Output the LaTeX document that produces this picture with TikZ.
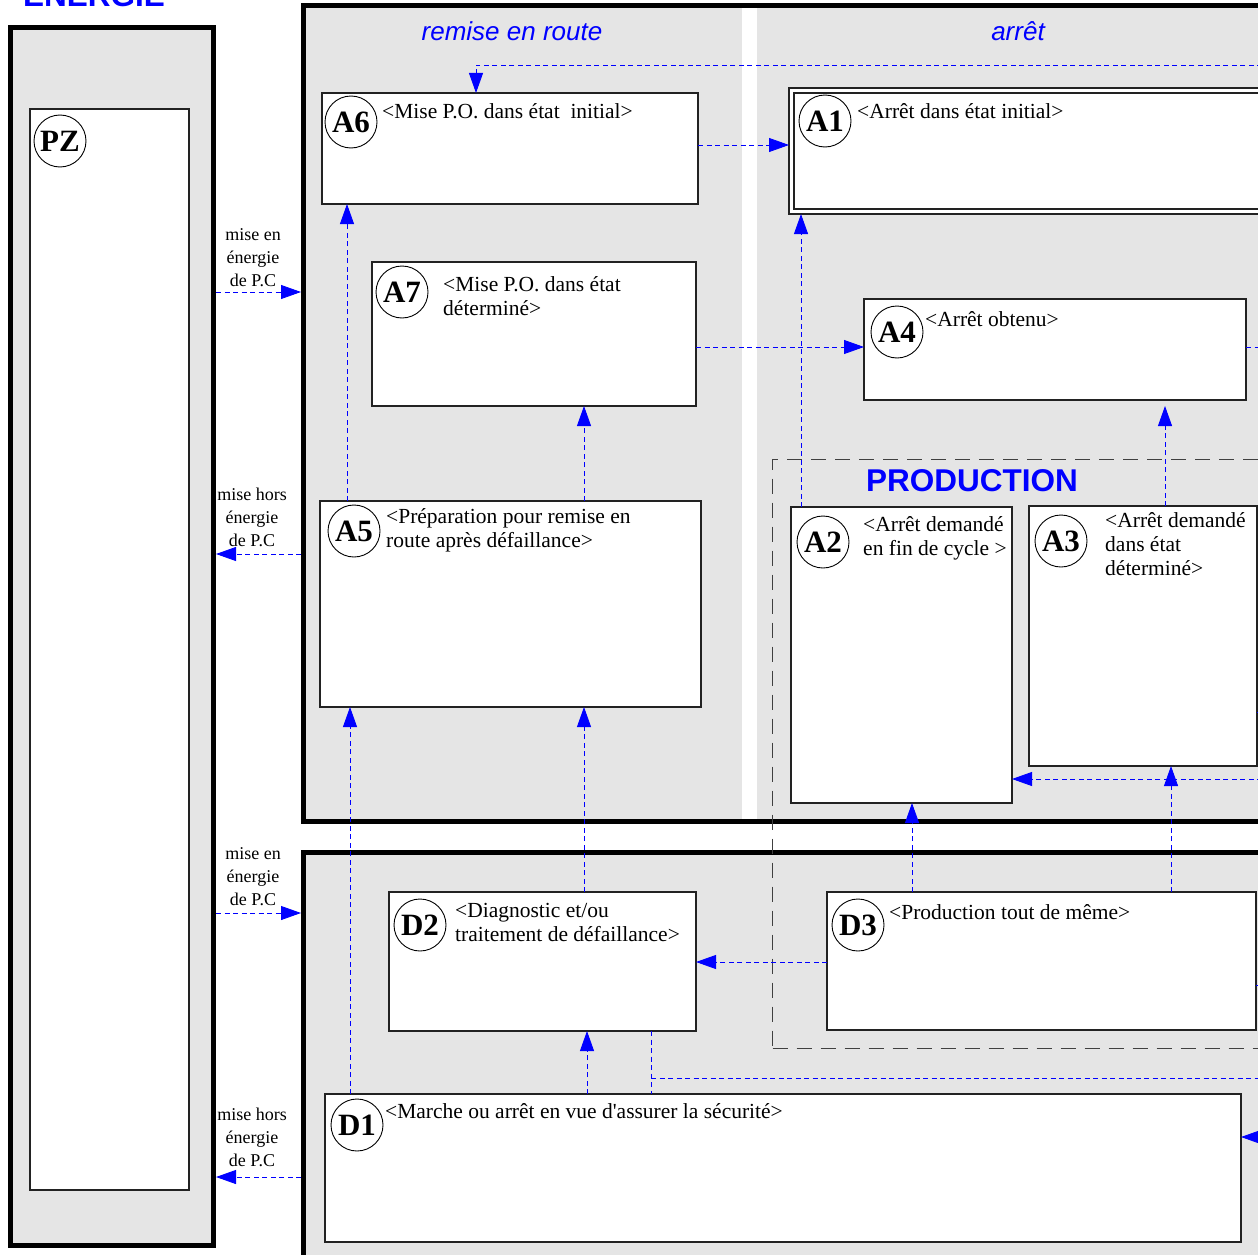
\documentclass[tikz,border=0pt]{standalone}
\usepackage{fontspec}
\setmainfont{Liberation Serif}
\setsansfont{Liberation Sans}
\usetikzlibrary{arrows.meta}
\definecolor{bg}{HTML}{E5E5E5}
\definecolor{bl}{HTML}{0000FF}
\definecolor{bd}{HTML}{222222}
\newcommand\mylines[1]{\begin{tabular}[t]{@{}l@{}}#1\end{tabular}}
\newcommand\mycentre[1]{\begin{tabular}[t]{@{}c@{}}#1\end{tabular}}
\begin{document}
\begin{tikzpicture}[x=1pt,y=-1pt,
  frame/.style={draw=black, line width=5pt, fill=bg, anchor=north west, inner sep=0pt, outer sep=2.5pt},
  box/.style={draw=bd, line width=1.5pt, fill=white, anchor=north west, inner sep=0pt, outer sep=0pt},
  tag/.style={circle, draw=black, line width=0.9pt, minimum size=52pt, inner sep=0pt, font=\fontsize{31}{32}\selectfont\bfseries},
  txt/.style={anchor=base west, inner sep=0pt, font=\fontsize{21.5}{24}\selectfont},
  side/.style={anchor=base, inner sep=0pt, font=\fontsize{18}{23}\selectfont},
  head/.style={anchor=base, inner sep=0pt, text=bl, font=\sffamily\itshape\fontsize{26}{30}\selectfont},
  big/.style={inner sep=0pt, text=bl, font=\sffamily\bfseries\fontsize{31.5}{34}\selectfont},
  prod/.style={draw=black!75, line width=1.3pt, dash pattern=on 15pt off 9pt, anchor=north west, inner sep=0pt},
  link/.style={draw=bl, line width=0.85pt, dash pattern=on 5pt off 3.5pt},
  conn/.style={link, -{Triangle[length=20pt,width=14pt]}}
]
\useasboundingbox (0,0) rectangle (1258,1255);
\begin{scope}
\clip (0,0) rectangle (1258,1255);

% frames
\node[frame, minimum width=203, minimum height=1218] (EN) at (8,25) {};
\node[big, anchor=base west] (ENt) at (23,7) {ÉNERGIE};
\node[box, minimum width=159, minimum height=1081] (PZ) at (30,109) {};
\node[tag] (tPZ) at (60,141) {PZ};

\node[frame, minimum width=1000, minimum height=816] (FA) at (301,3) {};
\fill[white] (742,8) rectangle (757,819);
\node[frame, minimum width=1000, minimum height=500] (FD) at (301,850) {};

\node[head] (h1) at (512,41) {remise en route};
\node[head] (h2) at (1018,41) {arrêt};

\node[prod, minimum width=560, minimum height=589] (PR) at (772,459) {};
\node[big, anchor=base] (PRt) at (972,491) {PRODUCTION};

% boxes
\node[box, minimum width=376, minimum height=111] (A6) at (322,93) {};
\node[box, minimum width=520, minimum height=126, line width=2pt] (A1) at (789,88) {};
\draw[draw=bd, line width=1.2pt] ([shift={(5,5)}]A1.north west) rectangle ([shift={(-5,-5)}]A1.south east);
\node[box, minimum width=324, minimum height=144] (A7) at (372,262) {};
\node[box, minimum width=382, minimum height=101] (A4) at (864,299) {};
\node[box, minimum width=381, minimum height=206] (A5) at (320,501) {};
\node[box, minimum width=221, minimum height=296] (A2) at (791,507) {};
\node[box, minimum width=228, minimum height=260] (A3) at (1029,506) {};
\node[box, minimum width=307, minimum height=139] (D2) at (389,892) {};
\node[box, minimum width=429, minimum height=138] (D3) at (827,892) {};
\node[box, minimum width=916, minimum height=148] (D1) at (325,1094) {};

% tags
\node[tag] (tA6) at (351,122) {A6};
\node[tag] (tA1) at (825,121) {A1};
\node[tag] (tA7) at (402,292) {A7};
\node[tag] (tA4) at (897,332) {A4};
\node[tag] (tA5) at (354,531) {A5};
\node[tag] (tA2) at (823,542) {A2};
\node[tag] (tA3) at (1061,541) {A3};
\node[tag] (tD2) at (420,925) {D2};
\node[tag] (tD3) at (858,925) {D3};
\node[tag] (tD1) at (357,1125) {D1};

% texts
\node[txt] (lA6) at (382,118) {<Mise P.O. dans état\ \ initial>};
\node[txt] (lA1) at (857,118) {<Arrêt dans état initial>};
\node[txt] (lA7) at (443,291) {\mylines{<Mise P.O. dans état\\déterminé>}};
\node[txt] (lA4) at (925,326) {<Arrêt obtenu>};
\node[txt] (lA5) at (386,523) {\mylines{<Préparation pour remise en\\route après défaillance>}};
\node[txt] (lA2) at (863,531) {\mylines{<Arrêt demandé\\en fin de cycle >}};
\node[txt] (lA3) at (1105,527) {\mylines{<Arrêt demandé\\dans état\\déterminé>}};
\node[txt] (lD2) at (455,917) {\mylines{<Diagnostic et/ou\\traitement de défaillance>}};
\node[txt] (lD3) at (889,919) {<Production tout de même>};
\node[txt] (lD1) at (385,1118) {<Marche ou arrêt en vue d\textquotesingle assurer la sécurité>};

\node[side] (s1) at (253,240) {\mycentre{mise en\\énergie\\de P.C}};
\node[side] (s2) at (252,500) {\mycentre{mise hors\\énergie\\de P.C}};
\node[side] (s3) at (253,859) {\mycentre{mise en\\énergie\\de P.C}};
\node[side] (s4) at (252,1120) {\mycentre{mise hors\\énergie\\de P.C}};

% helper coordinates
\coordinate (x347) at (347,0);
\coordinate (x350) at (350,0);
\coordinate (x476) at (476,0);
\coordinate (x584) at (584,0);
\coordinate (x587) at (587,0);
\coordinate (x651) at (651,0);
\coordinate (x801) at (801,0);
\coordinate (x912) at (912,0);
\coordinate (x1165) at (1165,0);
\coordinate (x1171) at (1171,0);
\coordinate (y145) at (0,145);
\coordinate (y292) at (0,292);
\coordinate (y347) at (0,347);
\coordinate (y554) at (0,554);
\coordinate (y712) at (0,712);
\coordinate (y779) at (0,779);
\coordinate (y913) at (0,913);
\coordinate (y962) at (0,962);
\coordinate (y985) at (0,985);
\coordinate (y1137) at (0,1137);
\coordinate (y1177) at (0,1177);
\coordinate (rTop) at (1262,65);
\coordinate (rA4) at (1262,347);
\coordinate (rA3) at (1262,712);
\coordinate (rA2) at (1262,779);
\coordinate (rD3) at (1262,985);
\coordinate (jD) at (651,1078);
\coordinate (rJ) at (1262,1078);
\coordinate (rD1) at (1275,1137);

% connectors
\draw[conn] (rTop) -| (A6.north -| x476);
\draw[conn] (A6.east |- y145) -- (A1.west |- y145);
\draw[conn] (A5.north -| x347) -- (A6.south -| x347);
\draw[conn] (A5.north -| x584) -- (A7.south -| x584);
\draw[conn] (A7.east |- y347) -- (A4.west |- y347);
\draw[conn] (A2.north -| x801) -- (A1.south -| x801);
\draw[conn, shorten >=6pt] (A3.north -| x1165) -- (A4.south -| x1165);
\draw[link] (A4.east |- y347) -- (rA4);
\draw[link] (A3.east |- y712) -- (rA3);
\draw[conn] (rA2) -- (A2.east |- y779);
\draw[conn] (D3.north -| x1171) -- (A3.south -| x1171);
\draw[conn] (D3.north -| x912) -- (A2.south -| x912);
\draw[link] (D3.east |- y985) -- (rD3);
\draw[conn] (D3.west |- y962) -- (D2.east |- y962);
\draw[conn] (D2.north -| x584) -- (A5.south -| x584);
\draw[conn] (D1.north -| x350) -- (A5.south -| x350);
\draw[conn] (D1.north -| x587) -- (D2.south -| x587);
\draw[link] (D2.south -| x651) -- (D1.north -| x651);
\draw[link] (jD) -- (rJ);
\draw[conn] (rD1) -- (D1.east |- y1137);

\draw[conn] (EN.east |- y292) -- (FA.west |- y292);
\draw[conn] (FA.west |- y554) -- (EN.east |- y554);
\draw[conn] (EN.east |- y913) -- (FD.west |- y913);
\draw[conn] (FD.west |- y1177) -- (EN.east |- y1177);
\end{scope}
\end{tikzpicture}
\end{document}
